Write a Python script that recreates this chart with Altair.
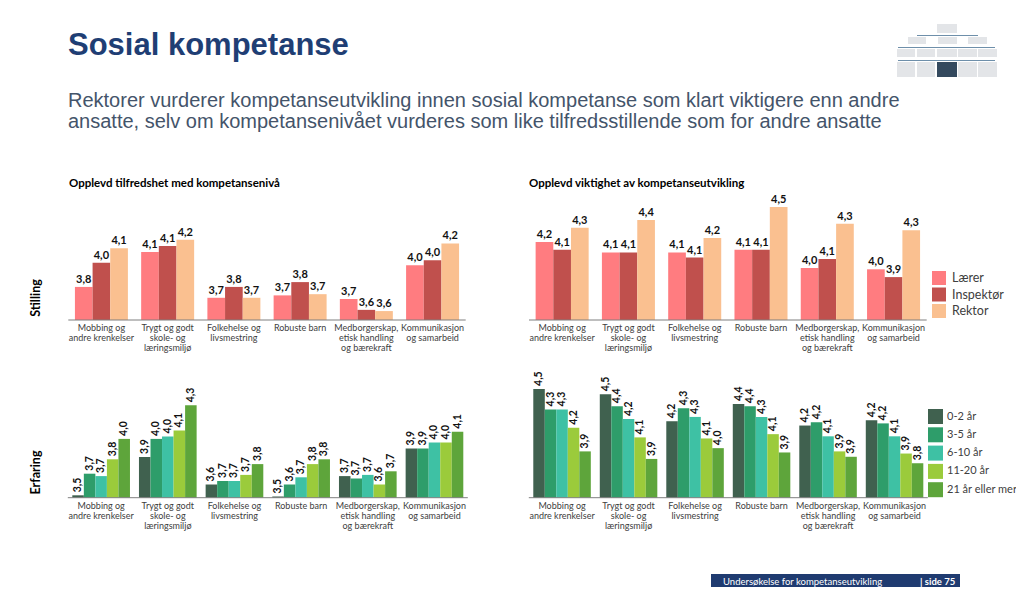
import altair as alt
import pandas as pd

# ---------------- data ----------------
categories = [
    "Mobbing og\nandre krenkelser",
    "Trygt og godt\nskole- og\nlæringsmiljø",
    "Folkehelse og\nlivsmestring",
    "Robuste barn",
    "Medborgerskap,\netisk handling\nog bærekraft",
    "Kommunikasjon\nog samarbeid",
]

stilling = ["Lærer", "Inspektør", "Rektor"]
stilling_colors = ["#FF7C80", "#C0504D", "#FAC090"]

erfaring = ["0-2 år", "3-5 år", "6-10 år", "11-20 år", "21 år eller mer"]
erfaring_colors = ["#40614F", "#2E9D6A", "#3EC1A4", "#9BCB3B", "#5EA53B"]

# Opplevd tilfredshet med kompetansenivå – Stilling
tilf_laerer = [3.80, 4.09, 3.71, 3.73, 3.70, 3.98]
tilf_inspektor = [4.00, 4.14, 3.80, 3.84, 3.61, 4.02]
tilf_rektor = [4.12, 4.19, 3.71, 3.74, 3.60, 4.16]

# Opplevd viktighet av kompetanseutvikling – Stilling
vikt_laerer = [4.19, 4.11, 4.11, 4.13, 3.99, 3.98]
vikt_inspektor = [4.13, 4.11, 4.07, 4.13, 4.06, 3.92]
vikt_rektor = [4.30, 4.36, 4.22, 4.46, 4.33, 4.28]

# Opplevd tilfredshet – Erfaring
tilf_0_2 = [3.54, 3.86, 3.63, 3.53, 3.70, 3.93]
tilf_3_5 = [3.72, 4.01, 3.66, 3.63, 3.68, 3.93]
tilf_6_10 = [3.70, 4.03, 3.66, 3.69, 3.71, 3.98]
tilf_11_20 = [3.84, 4.08, 3.71, 3.80, 3.63, 3.98]
tilf_21 = [4.01, 4.29, 3.80, 3.84, 3.74, 4.07]

# Opplevd viktighet – Erfaring
vikt_0_2 = [4.52, 4.47, 4.22, 4.38, 4.18, 4.23]
vikt_3_5 = [4.33, 4.36, 4.34, 4.36, 4.21, 4.20]
vikt_6_10 = [4.33, 4.24, 4.26, 4.26, 4.08, 4.08]
vikt_11_20 = [4.16, 4.07, 4.06, 4.10, 3.94, 3.92]
vikt_21 = [3.94, 3.87, 3.97, 3.93, 3.89, 3.83]

title_text = "Sosial kompetanse"
subtitle_lines = [
    "Rektorer vurderer kompetanseutvikling innen sosial kompetanse som klart viktigere enn andre",
    "ansatte, selv om kompetansenivået vurderes som like tilfredsstillende som for andre ansatte",
]
panel_title_left = "Opplevd tilfredshet med kompetansenivå"
panel_title_right = "Opplevd viktighet av kompetanseutvikling"
footer_text = "Undersøkelse for kompetanseutvikling"
footer_page = "| side 75"

# ---------------- layout / style ----------------
W, H = 1008, 579
FONT = "Lato"
TITLE_COLOR = "#1F3E74"
SUB_COLOR = "#44546A"
ONE = pd.DataFrame({"a": [0]})


def long_df(series_names, series_values):
    rows = []
    for s, vals in zip(series_names, series_values):
        for c, v in zip(categories, vals):
            rows.append({"kategori": c, "gruppe": s, "verdi": v})
    return pd.DataFrame(rows)


def panel(df, series_names, colors, x_range, y_min, y_base, px_unit,
          pad_inner, pad_outer, rotated, legend=None):
    x_scale = alt.Scale(domain=categories, range=x_range,
                        paddingInner=pad_inner, paddingOuter=pad_outer)
    y_scale = alt.Scale(domain=[y_min, y_min + 1], range=[y_base, y_base - px_unit],
                        zero=False, nice=False)
    x = alt.X("kategori:N", scale=x_scale, axis=None)
    xo = alt.XOffset("gruppe:N", scale=alt.Scale(domain=series_names))
    y = alt.Y("verdi:Q", scale=y_scale, axis=None)
    if legend is None:
        leg = None
    else:
        lx, ly, side, fs, rp, lo = legend
        leg = alt.Legend(title=None, orient="none", legendX=lx, legendY=ly,
                         symbolType="square", symbolSize=side * side,
                         symbolStrokeWidth=0, labelFont=FONT, labelFontSize=fs,
                         labelColor="#404040", rowPadding=rp, labelOffset=lo)
    color = alt.Color("gruppe:N",
                      scale=alt.Scale(domain=series_names, range=colors),
                      legend=leg)
    bars = alt.Chart(df).mark_bar().encode(
        x=x, xOffset=xo, y=y, y2=alt.datum(y_min), color=color)

    lab = alt.Chart(df).transform_calculate(
        lbl="replace(format(datum.verdi, '.1f'), '.', ',')")
    if rotated:
        lab = lab.mark_text(angle=270, align="left", baseline="middle", dx=3,
                            fontSize=10.5, fontWeight="bold", font=FONT, color="#111")
    else:
        lab = lab.mark_text(baseline="bottom", dy=-2, fontSize=11,
                            fontWeight="bold", font=FONT, color="#111")
    lab = lab.encode(x=x, xOffset=xo, y=y, text="lbl:N")

    cat_df = pd.DataFrame({"kategori": categories})
    cats = alt.Chart(cat_df).mark_text(
        lineBreak="\n", baseline="top", fontSize=9, lineHeight=10,
        color="#404040", font=FONT).encode(
        x=x, y=alt.value(y_base + 4), text="kategori:N")

    axis_line = alt.Chart(ONE).mark_rule(color="#7F7F7F", strokeWidth=1).encode(
        x=alt.value(x_range[0]), x2=alt.value(x_range[1]), y=alt.value(y_base))
    return alt.layer(bars, lab, cats, axis_line)


p_tl = panel(long_df(stilling, [tilf_laerer, tilf_inspektor, tilf_rektor]),
             stilling, stilling_colors, [60.3, 457.7], 3.526, 312, 120.7,
             0.2, 0.1, False)
p_tr = panel(long_df(stilling, [vikt_laerer, vikt_inspektor, vikt_rektor]),
             stilling, stilling_colors, [521, 918.7], 3.59, 312, 130,
             0.2, 0.1, False, legend=(924, 263, 14, 12.5, 2.5, 6))
p_bl = panel(long_df(erfaring, [tilf_0_2, tilf_3_5, tilf_6_10, tilf_11_20, tilf_21]),
             erfaring, erfaring_colors, [59.8, 459.8], 3.52, 489.7, 120,
             0.135, 0.0675, True)
p_br = panel(long_df(erfaring, [vikt_0_2, vikt_3_5, vikt_6_10, vikt_11_20, vikt_21]),
             erfaring, erfaring_colors, [520.8, 919.8], 3.51, 489.7, 107.7,
             0.135, 0.0675, True, legend=(920, 401, 15, 11, 3.3, 4))


def text_at(txt, x, y, **kw):
    return alt.Chart(ONE).mark_text(text=txt, **kw).encode(
        x=alt.value(x), y=alt.value(y))


header = [
    text_at(title_text, 60, 47, font="Liberation Sans", fontSize=31,
            fontWeight="bold", color=TITLE_COLOR, align="left", baseline="alphabetic"),
    text_at(subtitle_lines, 60, 99, font="Liberation Sans", fontSize=20,
            lineHeight=21, color=SUB_COLOR, align="left", baseline="alphabetic"),
    text_at(panel_title_left, 61, 179, font=FONT, fontSize=11.5, fontWeight="bold",
            color="#000", align="left", baseline="alphabetic"),
    text_at(panel_title_right, 521, 179, font=FONT, fontSize=11.5, fontWeight="bold",
            color="#000", align="left", baseline="alphabetic"),
    text_at("Stilling", 28, 290, font=FONT, fontSize=12.5, fontWeight="bold",
            color="#000", angle=270, align="center", baseline="middle"),
    text_at("Erfaring", 28, 464.5, font=FONT, fontSize=12.5, fontWeight="bold",
            color="#000", angle=270, align="center", baseline="middle"),
]

# logo (decorative): boxes as (x1, x2, y1, y2, colour)
logo_boxes = [
    (929, 949, 16, 25, "#E3E5E8"),
    (900, 918, 29, 36, "#E3E5E8"), (930, 949, 29, 36, "#E3E5E8"), (960, 979, 29, 36, "#E3E5E8"),
]
for x1, x2 in [(889, 907), (909, 927), (929, 949), (950, 969), (970, 989)]:
    logo_boxes.append((x1, x2, 41, 49, "#E3E5E8"))
    logo_boxes.append((x1, x2, 54, 69, "#34495E" if x1 == 929 else "#E3E5E8"))
logo_lines = [(909, 970, 27.5), (890, 987, 39.5), (890, 987, 52.5)]

logo = []
for x1, x2, y1, y2, c in logo_boxes:
    logo.append(alt.Chart(ONE).mark_rect(color=c).encode(
        x=alt.value(x1), x2=alt.value(x2), y=alt.value(y1), y2=alt.value(y2)))
for x1, x2, yy in logo_lines:
    logo.append(alt.Chart(ONE).mark_rule(color="#6E8FAA", strokeWidth=1).encode(
        x=alt.value(x1), x2=alt.value(x2), y=alt.value(yy)))

footer = [
    alt.Chart(ONE).mark_rect(color="#1F3B70").encode(
        x=alt.value(703), x2=alt.value(952), y=alt.value(566), y2=alt.value(582)),
    text_at(footer_text, 715, 574, font=FONT, fontSize=9.5, color="white",
            align="left", baseline="middle"),
    text_at(footer_page, 912, 574, font=FONT, fontSize=9.5, fontWeight="bold",
            color="white", align="left", baseline="middle"),
]

chart = alt.layer(
    *logo, *header, p_tl, p_tr, p_bl, p_br, *footer
).resolve_scale(
    x="independent", y="independent", color="independent", xOffset="independent"
).properties(
    width=W, height=H, autosize=alt.AutoSizeParams(type="none"), padding=0
).configure_view(stroke=None)

chart.save("out.html", embed_options={"renderer": "svg", "actions": False})
